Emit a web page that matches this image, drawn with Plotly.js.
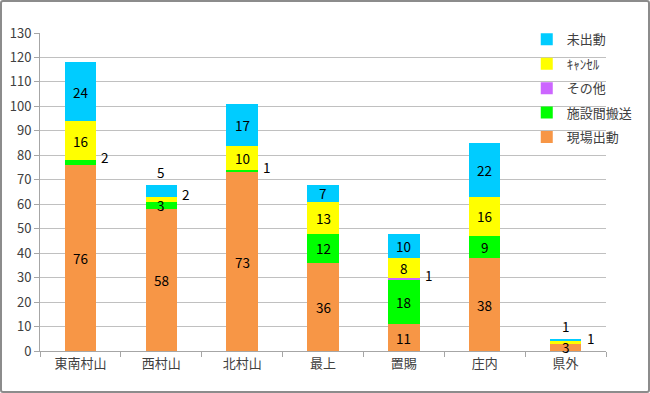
<!DOCTYPE html>
<html>
<head>
<meta charset="utf-8">
<script src="https://cdn.plot.ly/plotly-3.0.1.min.js"></script>
<style>
html,body{margin:0;padding:0;background:#fff;}
#wrap{position:relative;width:650px;height:393px;}
#chart{width:650px;height:393px;}
#frame{position:absolute;left:0;top:0;width:650px;height:393px;box-sizing:border-box;border:2px solid #8c8c8c;border-radius:3px;pointer-events:none;}
</style>
</head>
<body>
<div id="wrap"><div id="chart"></div><div id="frame"></div></div>
<script>
const categories = ['東南村山', '西村山', '北村山', '最上', '置賜', '庄内', '県外'];
const genba    = [76, 58, 73, 36, 11, 38, 3];   // 現場出動
const shisetsu = [2, 3, 1, 12, 18, 9, 0];       // 施設間搬送
const sonota   = [0, 0, 0, 0, 1, 0, 0];         // その他
const cancel   = [16, 2, 10, 13, 8, 16, 1];     // ｷｬﾝｾﾙ
const mishutsu = [24, 5, 17, 7, 10, 22, 1];     // 未出動
const yTicks = [0, 10, 20, 30, 40, 50, 60, 70, 80, 90, 100, 110, 120, 130];

const series = [
  {name: '現場出動', values: genba, color: '#F79646'},
  {name: '施設間搬送', values: shisetsu, color: '#00FF00'},
  {name: 'その他', values: sonota, color: '#CC66FF'},
  {name: 'ｷｬﾝｾﾙ', values: cancel, color: '#FFFF00'},
  {name: '未出動', values: mishutsu, color: '#00CCFF'}
];

const FONT = '"Noto Sans CJK JP", "Noto Sans", sans-serif';

const traces = series.map((s, k) => ({
  type: 'bar',
  name: s.name,
  x: categories,
  y: s.values,
  marker: {color: s.color, line: {width: 0}},
  legendgroup: 'g' + k,
  legendrank: 100 - k,
  hoverinfo: 'skip'
}));

const annotations = [];
categories.forEach((c, i) => {
  let base = 0;
  series.forEach((s, k) => {
    const v = s.values[i];
    if (v > 0) {
      const isTop = (k === series.length - 1);
      const a = {x: c, xref: 'x', yref: 'y', text: String(v), showarrow: false,
                 font: {family: FONT, size: 13.5, color: '#000'}};
      if (isTop && v <= 5) {
        a.y = base + v; a.yanchor = 'bottom'; a.yshift = 1;
      } else if (v <= 2) {
        a.y = base + v; a.yanchor = 'middle'; a.xshift = 25; a.yshift = 3;
      } else {
        a.y = base + v / 2; a.yanchor = 'middle';
      }
      annotations.push(a);
    }
    base += v;
  });
});

const layout = {
  width: 650, height: 393,
  margin: {l: 40, r: 32, t: 33, b: 42},
  paper_bgcolor: '#fff', plot_bgcolor: '#fff',
  barmode: 'stack',
  bargap: 0.61,
  showlegend: true,
  legend: {x: 0.86, xanchor: 'left', y: 1.027, yanchor: 'top',
           traceorder: 'grouped', tracegroupgap: 4.5,
           bgcolor: 'rgba(0,0,0,0)',
           font: {family: FONT, size: 13, color: '#404040'}},
  xaxis: {type: 'category', showline: true, linecolor: '#a6a6a6', linewidth: 1,
          ticks: 'outside', tickson: 'boundaries', ticklen: 5, tickcolor: '#a6a6a6',
          showgrid: false, zeroline: false,
          tickfont: {family: FONT, size: 13, color: '#404040'}},
  yaxis: {range: [0, 130], tickvals: yTicks, ticktext: yTicks.map(String),
          showline: true, linecolor: '#a6a6a6', linewidth: 1,
          ticks: 'outside', ticklen: 5, tickcolor: '#a6a6a6',
          showgrid: true, gridcolor: '#c0c0c0', gridwidth: 1, zeroline: false,
          tickfont: {family: FONT, size: 13, color: '#404040'}},
  annotations: annotations
};

Plotly.newPlot('chart', traces, layout, {displayModeBar: false, staticPlot: true});
</script>
</body>
</html>
